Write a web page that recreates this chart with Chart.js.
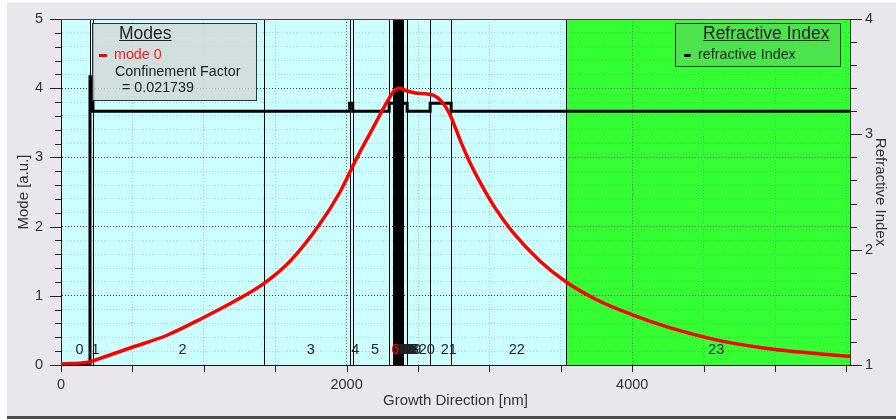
<!DOCTYPE html>
<html>
<head>
<meta charset="utf-8">
<script src="https://cdn.jsdelivr.net/npm/chart.js@4.4.1/dist/chart.umd.min.js"></script>
<style>
  html,body{margin:0;padding:0;background:#fff;}
  #wrap{position:relative;width:896px;height:419px;overflow:hidden;font-family:'Liberation Sans',Arial,sans-serif;}
  #panel{position:absolute;left:7px;top:3px;right:0;bottom:0;background:#e9e7ec;border-bottom:3px solid #4a4a4a;}
  #chart{position:absolute;left:0;top:0;}
  .box{position:absolute;box-sizing:border-box;border:1px solid #333;color:#222;}
  .box div{position:absolute;white-space:nowrap;}
  .ttl{font-size:17.5px;line-height:17.5px;text-decoration:underline;}
  .txt{font-size:14.3px;line-height:14.3px;}
  .mk{width:8px;height:3px;}
</style>
</head>
<body>
<div id="wrap">
  <div id="panel"></div>
  <canvas id="chart" width="896" height="419"></canvas>

  <div class="box" style="left:92px;top:23px;width:165px;height:78px;background:rgba(212,214,214,0.78)">
    <div class="ttl" style="left:26px;top:1px">Modes</div>
    <div class="mk" style="left:6px;top:30px;background:#ff0000"></div>
    <div class="txt" style="left:21px;top:23px;color:#ff1a1a">mode 0</div>
    <div class="txt" style="left:22px;top:40px">Confinement Factor</div>
    <div class="txt" style="left:29px;top:56px">= 0.021739</div>
  </div>

  <div class="box" style="left:675px;top:23px;width:166px;height:44px;background:rgba(78,226,78,0.95)">
    <div class="ttl" style="left:27px;top:1px">Refractive Index</div>
    <div class="mk" style="left:8px;top:30px;width:7px;background:#000"></div>
    <div class="txt" style="left:22px;top:23px">refractive Index</div>
  </div>
</div>

<script>
// =============================================
// Data
// =============================================
// layer boundaries along growth direction [nm]
const layerBounds = [0, 203, 224, 1422, 2021, 2043, 2298, 2326,
  2332, 2338, 2344, 2350, 2355, 2361, 2367, 2373, 2379, 2385, 2390,
  2396, 2424, 2585, 2732, 3538, 5525];
// refractive index of each layer
const layerIndex = [1.0, 3.5, 3.2, 3.2, 3.27, 3.2, 3.27,
  3.27, 3.6, 3.27, 3.6, 3.27, 3.6, 3.27, 3.6, 3.27, 3.6, 3.27, 3.27,
  3.27, 3.2, 3.27, 3.2, 3.2];
const layerNames = ['0','1','2','3','4','5','6','7','8','9','10','11','12','13','14','15','16','17','18','19','20','21','22','23'];
const activeLayer = 6;

// mode 0 profile
const modePos = [0, 203, 224, 504, 743, 1002, 1205, 1422, 1604, 1800, 1954, 2074, 2165, 2235, 2291, 2340, 2375, 2410, 2480, 2550,
  2606, 2655, 2697, 2732, 2767, 2809, 2865, 2935, 3040, 3159, 3355, 3538, 3755, 4007, 4245, 4595, 4946, 5408, 5525];
const modeVal = [0.015, 0.045, 0.06, 0.26, 0.43, 0.69, 0.91, 1.18, 1.5, 2.0, 2.5, 3.0, 3.35, 3.62, 3.83, 3.98, 4.0, 3.97, 3.93, 3.92,
  3.9, 3.83, 3.72, 3.58, 3.4, 3.18, 2.92, 2.64, 2.27, 1.93, 1.5, 1.2, 0.94, 0.72, 0.55, 0.36, 0.24, 0.145, 0.125];

const xTickLabels = ['0', '2000', '4000'];
const yTickLabels = ['0', '1', '2', '3', '4', '5'];
const y1TickLabels = ['1', '2', '3', '4'];

// =============================================
// Helpers
// =============================================
const FONT = "'Liberation Sans', Arial, sans-serif";
const indexPoints = [];
layerIndex.forEach((n, i) => indexPoints.push({x: layerBounds[i], y: n}, {x: layerBounds[i + 1], y: n}));
const modePoints = modePos.map((p, i) => ({x: p, y: modeVal[i]}));

const pick = list => v => list.includes(String(v)) ? String(v) : '';
const gridCol = (major, minor) => c => (c.tick && c.tick.label !== '') ? major : minor;
// fixed box size, no extra label overhang
const fixW = w => s => { s.width = w; s.paddingTop = 0; s.paddingBottom = 0; };

const layerPlugin = {
  id: 'layers',
  beforeDraw(chart) {
    const {ctx, chartArea: a, scales: {x}} = chart;
    const gx = x.getPixelForValue(layerBounds[layerBounds.length - 2]);
    ctx.save();
    ctx.fillStyle = '#ccffff';
    ctx.fillRect(a.left, a.top, a.right - a.left, a.bottom - a.top);
    ctx.fillStyle = '#33ff33';
    ctx.fillRect(gx, a.top, a.right - gx, a.bottom - a.top);
    ctx.restore();
  },
  beforeDatasetsDraw(chart) {
    const {ctx, chartArea: a, scales: {x}} = chart;
    ctx.save();
    ctx.strokeStyle = '#000';
    ctx.lineWidth = 1;
    layerBounds.slice(1, -1).forEach(b => {
      const px = Math.round(x.getPixelForValue(b)) + 0.5;
      ctx.beginPath(); ctx.moveTo(px, a.top); ctx.lineTo(px, a.bottom); ctx.stroke();
    });
    ctx.restore();
  },
  afterDatasetsDraw(chart) {
    const {ctx, chartArea: a, scales: {x}} = chart;
    ctx.save();
    ctx.font = '14.5px ' + FONT;
    ctx.textBaseline = 'middle';
    ctx.textAlign = 'left';
    const order = layerNames.map((n, i) => i).filter(i => i !== activeLayer).concat([activeLayer]);
    order.forEach(i => {
      const c = (layerBounds[i] + layerBounds[i + 1]) / 2;
      ctx.fillStyle = i === activeLayer ? '#ff0000' : '#222';
      ctx.fillText(layerNames[i], x.getPixelForValue(c), a.bottom - 15);
    });
    ctx.restore();
  },
  afterDraw(chart) {
    const {ctx, chartArea: a, scales: {x, y, y1}} = chart;
    ctx.save();
    ctx.strokeStyle = '#222';
    ctx.lineWidth = 1;
    const seg = (x1, y1_, x2, y2) => { ctx.beginPath(); ctx.moveTo(x1, y1_); ctx.lineTo(x2, y2); ctx.stroke(); };
    x.ticks.forEach(t => { const p = Math.round(x.getPixelForValue(t.value)) + 0.5; seg(p, a.bottom, p, a.bottom + 7); });
    y.ticks.forEach(t => { const p = Math.round(y.getPixelForValue(t.value)) + 0.5; seg(a.left - (t.label !== '' ? 11 : 6), p, a.left, p); });
    y1.ticks.forEach(t => { const p = Math.round(y1.getPixelForValue(t.value)) + 0.5; seg(a.right, p, a.right + (t.label !== '' ? 12 : 7), p); });
    ctx.strokeStyle = '#444';
    seg(a.left, Math.round(a.top) + 0.5, a.right, Math.round(a.top) + 0.5);
    ctx.restore();
  }
};

// =============================================
// Chart
// =============================================
new Chart(document.getElementById('chart'), {
  type: 'line',
  data: {
    datasets: [
      {label: 'mode 0', data: modePoints, yAxisID: 'y', borderColor: '#ff0000', borderWidth: 3.5,
        pointRadius: 0, cubicInterpolationMode: 'monotone', order: 0},
      {label: 'refractive Index', data: indexPoints, yAxisID: 'y1', borderColor: '#000', borderWidth: 3,
        pointRadius: 0, tension: 0, order: 1}
    ]
  },
  options: {
    responsive: false, animation: false, devicePixelRatio: 1,
    layout: {padding: {top: 19, left: 0, right: 0, bottom: 0}},
    plugins: {legend: {display: false}, tooltip: {enabled: false}},
    scales: {
      x: {
        type: 'linear', min: 0, max: 5525,
        afterFit: s => { s.height = 54; },
        // keep ticks on whole 500 nm steps
        afterBuildTicks: s => { s.ticks = Array.from({length: Math.floor(s.max / 500) + 1}, (_, i) => ({value: i * 500})); },
        ticks: {autoSkip: false, maxRotation: 0, padding: 11,
          callback: pick(xTickLabels), color: '#333', font: {size: 14.5, family: FONT}},
        grid: {drawTicks: false, color: gridCol('rgba(0,0,0,0.55)', 'rgba(0,90,90,0.22)')},
        border: {color: '#111', width: 1, dash: [1, 2]},
        title: {display: true, text: 'Growth Direction [nm]', color: '#333', font: {size: 15, family: FONT}, padding: {top: 0, bottom: 9}}
      },
      y: {
        position: 'left', min: 0, max: 5,
        afterFit: fixW(61),
        ticks: {stepSize: 0.2, autoSkip: false, padding: 18, callback: pick(yTickLabels), color: '#333', font: {size: 14.5, family: FONT}},
        grid: {drawTicks: false, color: gridCol('rgba(0,0,0,0.75)', 'rgba(0,90,90,0.22)')},
        border: {color: '#111', width: 1, dash: [1, 2]},
        title: {display: true, text: 'Mode [a.u.]', color: '#333', font: {size: 15, family: FONT}, padding: {top: 15, bottom: 0}}
      },
      y1: {
        position: 'right', min: 1, max: 4,
        afterFit: fixW(46),
        ticks: {stepSize: 0.2, autoSkip: false, padding: 15, callback: pick(y1TickLabels), color: '#333', font: {size: 14.5, family: FONT}},
        grid: {drawTicks: false, drawOnChartArea: false},
        border: {color: '#333', width: 1},
        title: {display: true, text: 'Refractive Index', color: '#333', font: {size: 15, family: FONT}, padding: {top: 7, bottom: 0}}
      }
    }
  },
  plugins: [layerPlugin]
});
</script>
</body>
</html>
